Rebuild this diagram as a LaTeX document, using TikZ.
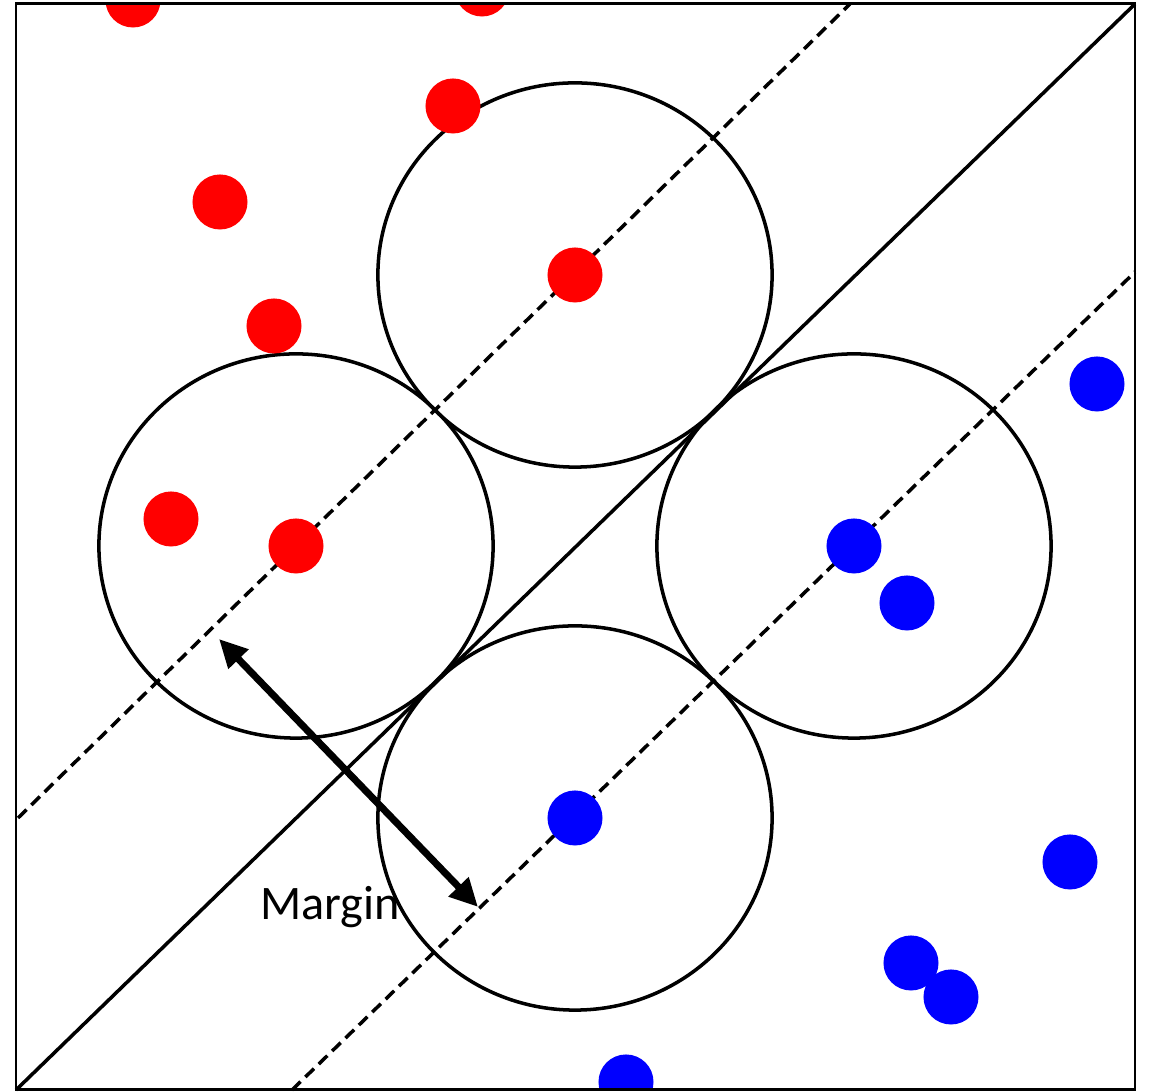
\documentclass[tikz,border=0pt]{standalone}
\usepackage{fontspec}
\newfontfamily\labelfont{Carlito}
\usetikzlibrary{positioning,shapes.geometric,arrows.meta}

\begin{document}
\begin{tikzpicture}[
  x=0.01cm, y=-0.01cm,
  ball/.style={circle, fill=#1, minimum size=5.5mm, inner sep=0pt},
  reach/.style={draw, ellipse, line width=1pt, minimum width=3.94cm, minimum height=3.84cm, inner sep=0pt},
  bound/.style={line width=1pt, dash pattern=on 3.4pt off 1.9pt},
  >={Triangle[length=8pt, width=7.5pt]}
]
\useasboundingbox (0,0) rectangle (1150,1092);

% frame corners and line ends
\coordinate (nw) at (16,4);
\coordinate (se) at (1135,1090);
\coordinate (sw) at (16,1090);
\coordinate (ne) at (1135,4);
\coordinate (up1) at (18,818);
\coordinate (up2) at (850,4);
\coordinate (lo1) at (292,1090);
\coordinate (lo2) at (1135,272);

% the four circles
\node[reach] (ctop) at (575,275) {};
\node[reach] (cleft) at (296,546) {};
\node[reach] (cright) at (854,546) {};
\node[reach] (cbot) at (575,818) {};

% separating line and the two margin lines
\draw[line width=1pt] (sw) -- (ne);
\draw[bound] (up1) -- (up2);
\draw[bound] (lo1) -- (lo2);

% points of both classes
\begin{scope}
\clip (nw) rectangle (se);
\node[ball=red] (r1) at (133,0) {};
\node[ball=red] (r2) at (482,-11) {};
\node[ball=red] (r3) at (453,106) {};
\node[ball=red] (r4) at (220,202) {};
\node[ball=red] (r5) at (274,326) {};
\node[ball=red] (r6) at (575,275) {};
\node[ball=red] (r7) at (171,519) {};
\node[ball=red] (r8) at (296,546) {};
\node[ball=blue] (b1) at (1097,384) {};
\node[ball=blue] (b2) at (854,546) {};
\node[ball=blue] (b3) at (907,603) {};
\node[ball=blue] (b4) at (575,818) {};
\node[ball=blue] (b5) at (1070,862) {};
\node[ball=blue] (b6) at (911,963) {};
\node[ball=blue] (b7) at (951,997) {};
\node[ball=blue] (b8) at (626,1082) {};
\end{scope}

% margin arrow
\coordinate (ma) at (219,639);
\coordinate (mb) at (478,907);
\draw[<->, line width=2pt] (ma) -- (mb);
\node[left=6.6mm of mb, font=\labelfont\fontsize{13.7}{16}\selectfont] (margin) {Margin};

\draw[line width=0.85pt] (nw) rectangle (se);

\end{tikzpicture}
\end{document}
